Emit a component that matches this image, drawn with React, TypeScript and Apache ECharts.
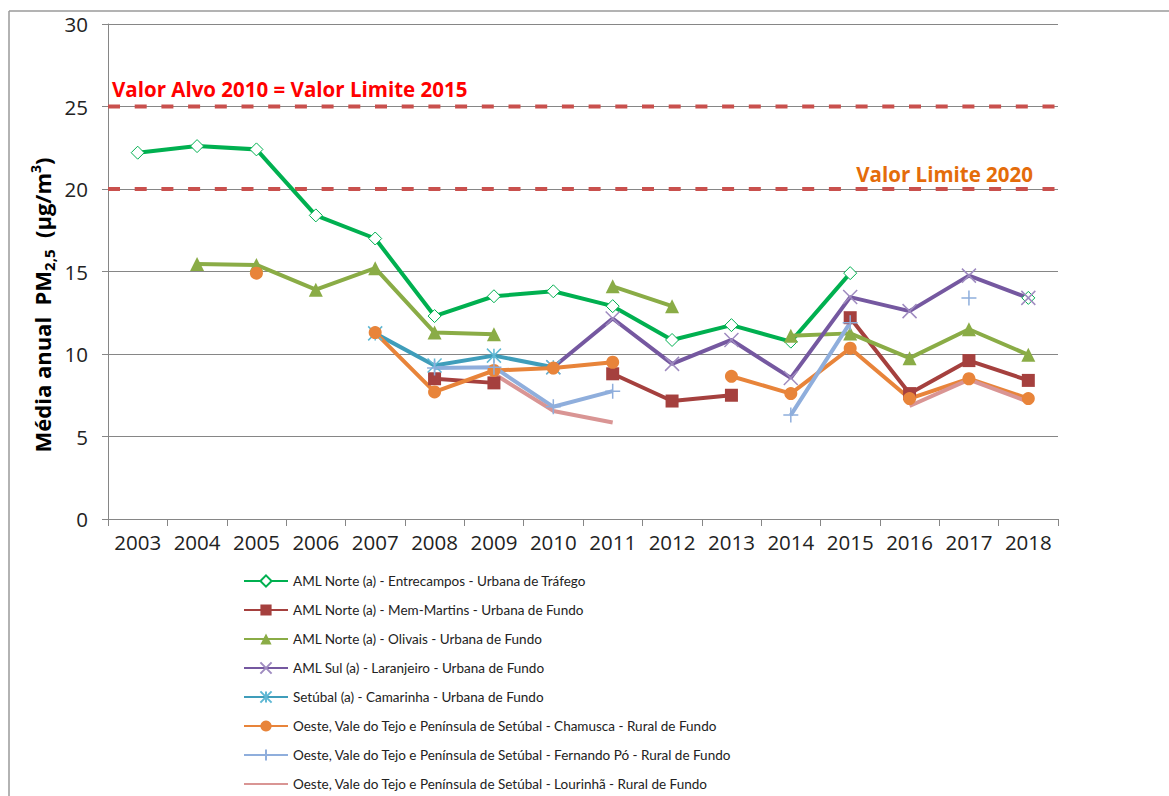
import React, { useEffect, useRef } from "react";
import * as echarts from "echarts";

const years = ["2003","2004","2005","2006","2007","2008","2009","2010","2011","2012","2013","2014","2015","2016","2017","2018"];
const yTicks = { min: 0, max: 30, interval: 5 };

const entrecampos = [22.2, 22.6, 22.4, 18.4, 17.0, 12.3, 13.5, 13.8, 12.9, 10.85, 11.75, 10.75, 14.9, null, null, 13.4];
const memMartins = [null, null, null, null, null, 8.5, 8.25, null, 8.8, 7.15, 7.5, null, 12.2, 7.6, 9.6, 8.4];
const olivais = [null, 15.45, 15.4, 13.9, 15.2, 11.3, 11.2, null, 14.1, 12.9, null, 11.1, 11.25, 9.75, 11.5, 9.95];
const laranjeiro = [null, null, null, null, null, null, null, 9.2, 12.15, 9.4, 10.85, 8.55, 13.45, 12.6, 14.75, 13.4];
const camarinha = [null, null, null, null, 11.25, 9.3, 9.9, 9.2, null, null, null, null, null, null, null, null];
const chamusca = [null, null, 14.9, null, 11.3, 7.7, 9.0, 9.15, 9.5, null, 8.65, 7.6, 10.35, 7.3, 8.5, 7.3];
const fernandoPo = [null, null, null, null, null, 9.15, 9.2, 6.8, 7.75, null, null, 6.3, 11.9, null, 13.4, null];
const lourinha = [null, null, null, null, null, null, 8.8, 6.55, 5.85, null, null, null, null, 6.85, 8.45, 7.1];

const limitValues = [25, 20];
const limitLabels = ["Valor Alvo 2010 = Valor Limite 2015", "Valor Limite 2020"];

const names = [
  "AML Norte (a) - Entrecampos - Urbana de Tráfego",
  "AML Norte (a) - Mem-Martins - Urbana de Fundo",
  "AML Norte (a) - Olivais - Urbana de Fundo",
  "AML Sul (a) - Laranjeiro - Urbana de Fundo",
  "Setúbal (a) - Camarinha - Urbana de Fundo",
  "Oeste, Vale do Tejo e Península de Setúbal - Chamusca - Rural de Fundo",
  "Oeste, Vale do Tejo e Península de Setúbal - Fernando Pó - Rural de Fundo",
  "Oeste, Vale do Tejo e Península de Setúbal - Lourinhã - Rural de Fundo",
];

const X_PATH = "path://M0,0L10,10M10,0L0,10";
const STAR_PATH = "path://M0,0L10,10M10,0L0,10M5,0L5,10";
const PLUS_PATH = "path://M5,0L5,10M0,5L10,5";

const FONT = "'Open Sans', 'Noto Sans', sans-serif";

export default function App() {
  const ref = useRef<HTMLDivElement>(null);
  useEffect(() => {
    if (!ref.current) return;
    const chart = echarts.init(ref.current, null, { renderer: "svg" });

    const mk = (name: string, data: any[], color: string, symbol: string, size: number, item: any) => ({
      name,
      type: "line",
      data,
      symbol,
      symbolSize: size,
      showSymbol: symbol !== "none",
      showAllSymbol: true,
      connectNulls: false,
      lineStyle: { color, width: 4 },
      itemStyle: item,
      emphasis: { disabled: true },
    });

    const limitSeries = limitValues.map((v, i) => ({
      name: "limit" + i,
      type: "line",
      xAxisIndex: 1,
      yAxisIndex: 0,
      silent: true,
      symbol: "none",
      data: [[0, v], [years.length, v]],
      lineStyle: { color: "#C9504D", width: 4, type: [12, 14.7] },
      emphasis: { disabled: true },
    }));

    const series: any[] = [
      ...limitSeries,
      mk(names[0], entrecampos, "#00B050", "diamond", 13, { color: "#ffffff", borderColor: "#00B050", borderWidth: 1 }),
      mk(names[1], memMartins, "#A5403E", "rect", 13, { color: "#A5403E", borderColor: "#A5403E", borderWidth: 0 }),
      mk(names[2], olivais, "#8AAC46", "triangle", 14, { color: "#8AAC46", borderColor: "#8AAC46", borderWidth: 0 }),
      mk(names[3], laranjeiro, "#7558A0", X_PATH, 14, { color: "#9F8BC0", borderColor: "#9F8BC0", borderWidth: 1.5 }),
      mk(names[4], camarinha, "#3F9DBA", STAR_PATH, 14, { color: "#5FB8D4", borderColor: "#5FB8D4", borderWidth: 1.5 }),
      mk(names[5], chamusca, "#E8843A", "circle", 13, { color: "#E8843A", borderColor: "#E8843A", borderWidth: 0 }),
      mk(names[6], fernandoPo, "#8FAEDC", PLUS_PATH, 15, { color: "#8FAEDC", borderColor: "#8FAEDC", borderWidth: 1.5 }),
      mk(names[7], lourinha, "#D99594", "none", 0, { color: "#D99594" }),
    ];

    const legendData: any[] = names.map((n, i) =>
      i === 7 ? { name: n, itemStyle: { opacity: 0 } } : { name: n }
    );

    chart.setOption({
      animation: false,
      backgroundColor: "#ffffff",
      grid: { left: 108, top: 24, right: 111, bottom: 277, containLabel: false },
      xAxis: [
        {
          type: "category",
          data: years,
          boundaryGap: true,
          axisLine: { show: true, lineStyle: { color: "#868686", width: 1 } },
          axisTick: { show: true, alignWithLabel: false, length: 7, lineStyle: { color: "#868686" } },
          axisLabel: { color: "#222", fontSize: 20.5, fontFamily: FONT, margin: 12, interval: 0 },
          splitLine: { show: false },
        },
        { type: "value", min: 0, max: years.length, show: false },
      ],
      yAxis: {
        type: "value",
        min: yTicks.min,
        max: yTicks.max,
        interval: yTicks.interval,
        axisLine: { show: true, lineStyle: { color: "#868686", width: 1 } },
        axisTick: { show: true, length: 6, lineStyle: { color: "#868686" } },
        axisLabel: { color: "#222", fontSize: 20.5, fontFamily: FONT, margin: 20 },
        splitLine: { show: true, lineStyle: { color: "#868686", width: 1 } },
      },
      legend: {
        data: legendData,
        orient: "vertical",
        left: 238,
        top: 569,
        height: 260,
        itemWidth: 44,
        itemHeight: 14,
        itemGap: 15,
        textStyle: { color: "#222", fontSize: 13.5, fontFamily: "'Lato', sans-serif" },
        selectedMode: false,
      },
      graphic: [
        { type: "line", shape: { x1: 9, y1: 11, x2: 1169, y2: 11 }, style: { stroke: "#9a9a9a", lineWidth: 1.5 }, silent: true },
        { type: "line", shape: { x1: 9, y1: 11, x2: 9, y2: 796 }, style: { stroke: "#9a9a9a", lineWidth: 1.5 }, silent: true },
        {
          type: "text",
          x: 112,
          y: 89,
          style: { text: limitLabels[0], fill: "#FF0000", font: "bold 20.5px 'Open Sans', sans-serif", align: "left", verticalAlign: "middle" },
          silent: true,
        },
        {
          type: "text",
          x: 1033,
          y: 174,
          style: { text: limitLabels[1], fill: "#E46C0A", font: "bold 20.5px 'Open Sans', sans-serif", align: "right", verticalAlign: "middle" },
          silent: true,
        },
        {
          type: "text",
          x: 42,
          y: 305,
          rotation: Math.PI / 2,
          silent: true,
          style: {
            text: "{a|Média anual  PM}{s|2,5}{a|  (µg/m}{p|3}{a|)}",
            align: "center",
            verticalAlign: "middle",
            rich: {
              a: { fontSize: 22, fontWeight: "bold", fontFamily: FONT, fill: "#000", lineHeight: 28, verticalAlign: "middle" },
              s: { fontSize: 15, fontWeight: "bold", fontFamily: FONT, fill: "#000", lineHeight: 15, verticalAlign: "bottom" },
              p: { fontSize: 14, fontWeight: "bold", fontFamily: FONT, fill: "#000", lineHeight: 14, verticalAlign: "top" },
            },
          },
        },
      ],
      series,
    });
    return () => chart.dispose();
  }, []);
  return <div ref={ref} style={{ position: "fixed", left: 0, top: 0, width: 1169, height: 796 }} />;
}
